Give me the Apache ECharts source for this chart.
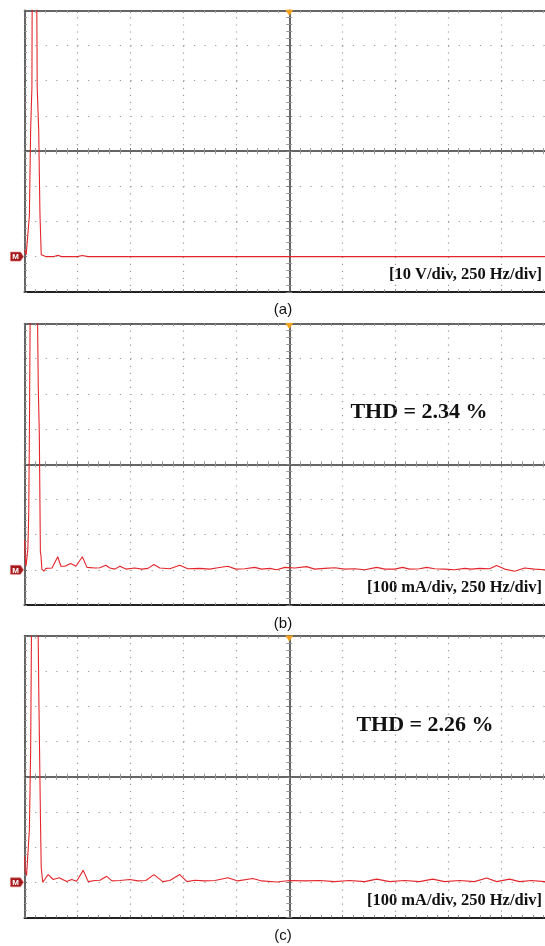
<!DOCTYPE html>
<html>
<head>
<meta charset="utf-8">
<style>
  html, body { margin: 0; padding: 0; background: #fff; }
  #chart { width: 545px; height: 946px; }
</style>
<script src="https://cdn.jsdelivr.net/npm/echarts@6.0.0/dist/echarts.min.js"></script>
</head>
<body>
<div id="chart"></div>
<script>
// Spectrum traces: frequency (Hz) and magnitude above the M reference level.
// (a) voltage in V
const freqA = [0, 3, 8, 12, 17, 23, 29, 35, 40, 45, 50, 54, 60, 67, 70, 73, 79, 85, 100, 140, 157, 175, 250, 273, 300, 2500];
const voltA = [2, 1.5, 0.5, 0.5, 0.3, 11.6, 36, 48, 150, 280, 320, 120, 48, 36, 24, 12, 0.5, 0, 0, 0, 0.4, 0, 0, 0.3, 0, 0];

// (b) current in mA
const freqB = [0, 3, 7, 12, 16, 20, 23, 27, 35, 50, 60, 65, 70, 75, 78, 82, 86, 91, 101, 130, 157, 172, 191, 218, 243, 273, 295,
  333, 356, 384, 403, 427, 450, 479, 521, 554, 583, 611, 639, 686, 733, 771, 828, 875, 913, 960, 998, 1040, 1087, 1120, 1158,
  1191, 1229, 1276, 1332, 1370, 1417, 1465, 1512, 1559, 1606, 1663, 1701, 1748, 1785, 1818, 1865, 1899, 1936, 1983, 2031,
  2078, 2111, 2149, 2196, 2229, 2267, 2314, 2361, 2408, 2455, 2500];
const currB = [85, 45, 10, 5, 60, 160, 380, 750, 1100, 1500, 800, 520, 385, 50, 40, 2, -3, -4, 4, 5, 37, 10, 10, 18, 10, 37, 7,
  5, 6, 13, 5, 2, 10, 2, 5, 2, 4, 15, 5, 3, 13, 3, 4, 2, 6, 10, 2, 3, 7, 2, 4,
  0, 7, 5, 9, 2, 4, 6, 2, 3, 0, 7, 2, 2, 7, 2, 3, 7, 3, 2, 0,
  4, 2, 4, 3, 12, 2, -4, 5, 2, 0, 2];

// (c) current in mA
const freqC = [0, 3, 10, 16, 23, 29, 34, 50, 68, 76, 79, 86, 91, 101, 112, 136, 164, 199, 223, 246, 277, 301,
  333, 356, 388, 413, 450, 498, 535, 573, 611, 653, 686, 733, 767, 804, 851, 899, 960, 1007, 1078, 1120,
  1191, 1252, 1323, 1394, 1465, 1535, 1606, 1663, 1724, 1795, 1865, 1927, 1983, 2054, 2125, 2182, 2229,
  2290, 2337, 2394, 2455, 2500];
const currC = [73, 36, 20, 17, 150, 372, 800, 1500, 514, 155, 42, 0, 3, 13, 22, 8, 13, 2, 8, 3, 34, 2,
  5, 6, 17, 4, 5, 8, 4, 5, 22, 2, 5, 22, 2, 6, 4, 5, 13, 4, 11, 4,
  1, 5, 4, 5, 2, 5, 2, 9, 2, 5, 2, 9, 2, 5, 2, 12, 2,
  9, 2, 5, 2, 3];

// Screen scale: 10 divisions of 250 Hz, 8 divisions of amplitude
const freqMin = 0, freqMax = 2500, freqDiv = 250;
const ampScales = [[-10, 70, 10], [-100, 700, 100], [-100, 700, 100]];
const scaleTexts = ['[10 V/div, 250 Hz/div]', '[100 mA/div, 250 Hz/div]', '[100 mA/div, 250 Hz/div]'];
const thdTexts = ['', 'THD = 2.34 %', 'THD = 2.26 %'];
const panelTexts = ['(a)', '(b)', '(c)'];

const traces = [
  freqA.map((f, i) => [f, voltA[i]]),
  freqB.map((f, i) => [f, currB[i]]),
  freqC.map((f, i) => [f, currC[i]])
];

// layout of the three screens (the right edge of each screen runs past the page)
const plotLeft = 24.5, plotWidth = 529.5, plotHeight = 281.5;
const plotTops = [10.3, 323.5, 636];
const frameColor = '#333';
const tickColor = '#9a9a9a';
const dotColor = '#999';
const traceColor = '#e3262b';
const serif = '"Liberation Serif", "Times New Roman", serif';
const sans = '"Liberation Sans", Arial, sans-serif';

const grids = [], xAxes = [], yAxes = [], series = [], graphics = [];

function tickSet(inside, len) {
  return {
    axisTick: { show: true, inside: inside, length: len, lineStyle: { color: '#777', width: 1 } },
    minorTick: { show: true, splitNumber: 5, length: len, lineStyle: { color: tickColor, width: 1 } }
  };
}

for (let g = 0; g < 3; g++) {
  const [yMin, yMax, yDiv] = ampScales[g];
  grids.push({
    left: plotLeft, top: plotTops[g], width: plotWidth, height: plotHeight,
    show: false, containLabel: false, outerBoundsMode: 'none'
  });

  const xBase = {
    gridIndex: g, type: 'value', min: freqMin, max: freqMax, interval: freqDiv,
    axisLabel: { show: false }, splitLine: { show: false }, axisPointer: { show: false }
  };
  // bottom frame with the vertical dotted graticule
  xAxes.push(Object.assign({}, xBase, tickSet(true, 2.5), {
    position: 'bottom',
    axisLine: { show: true, onZero: false, lineStyle: { color: '#222', width: 2 } },
    splitLine: { show: true, lineStyle: { color: dotColor, width: 1.2, type: [1.2, 5.84] } }
  }));
  // top frame
  xAxes.push(Object.assign({}, xBase, tickSet(true, 2.5), {
    position: 'top',
    axisLine: { show: true, onZero: false, lineStyle: { color: frameColor, width: 1.5 } }
  }));
  // horizontal centre line, ticks above and below
  xAxes.push(Object.assign({}, xBase, tickSet(true, 3), {
    position: 'bottom', offset: -plotHeight / 2,
    axisLine: { show: true, onZero: false, lineStyle: { color: frameColor, width: 1.5 } }
  }));
  xAxes.push(Object.assign({}, xBase, tickSet(false, 3), {
    position: 'bottom', offset: -plotHeight / 2,
    axisLine: { show: false, onZero: false }
  }));

  const yBase = {
    gridIndex: g, type: 'value', min: yMin, max: yMax, interval: yDiv,
    axisLabel: { show: false }, splitLine: { show: false }, axisPointer: { show: false }
  };
  // left frame with the horizontal dotted graticule
  yAxes.push(Object.assign({}, yBase, tickSet(true, 2.5), {
    position: 'left',
    axisLine: { show: true, onZero: false, lineStyle: { color: frameColor, width: 1.5 } },
    splitLine: { show: true, lineStyle: { color: dotColor, width: 1.2, type: [1.2, 9.39] } }
  }));
  // vertical centre line, ticks left and right
  yAxes.push(Object.assign({}, yBase, tickSet(true, 3), {
    position: 'left', offset: -plotWidth / 2,
    axisLine: { show: true, onZero: false, lineStyle: { color: frameColor, width: 1.5 } }
  }));
  yAxes.push(Object.assign({}, yBase, tickSet(false, 3), {
    position: 'left', offset: -plotWidth / 2,
    axisLine: { show: false, onZero: false }
  }));

  series.push({
    type: 'line',
    xAxisIndex: 4 * g, yAxisIndex: 3 * g,
    data: traces[g],
    symbol: 'none', showSymbol: false, clip: true, silent: true,
    lineStyle: { color: traceColor, width: 1.1 },
    markPoint: {
      silent: true,
      animation: false,
      data: [
        {
          // ground reference marker
          coord: [freqMin, 0],
          symbol: 'path://M0,0 L10,0 L13,4.5 L10,9 L0,9 Z',
          symbolSize: [13, 9], symbolOffset: [-7.5, 0],
          itemStyle: { color: '#a3191c', borderColor: '#e07070', borderWidth: 0.6 },
          label: { show: true, formatter: 'M', color: '#fff', fontSize: 8, fontWeight: 'bold',
                   fontFamily: sans, offset: [-1.5, 0.5] }
        },
        {
          // trigger position marker
          coord: [(freqMin + freqMax) / 2, yMax],
          symbol: 'path://M0,0 L8,0 L4,6 Z',
          symbolSize: [8, 6], symbolOffset: [0, 2.5],
          itemStyle: { color: '#f4a21c' },
          label: { show: false }
        }
      ]
    }
  });

  const top = plotTops[g], bottom = top + plotHeight;
  graphics.push({
    type: 'text', x: 542, y: bottom - 17, silent: true,
    style: { text: scaleTexts[g], font: 'bold 16.5px ' + serif, fill: '#111',
             textAlign: 'right', textVerticalAlign: 'middle' }
  });
  if (thdTexts[g]) {
    graphics.push({
      type: 'text', x: 419 + (g === 2 ? 6 : 0), y: top + 89, silent: true,
      style: { text: thdTexts[g], font: 'bold 22px ' + serif, fill: '#111',
               textAlign: 'center', textVerticalAlign: 'middle' }
    });
  }
  graphics.push({
    type: 'text', x: 283, y: bottom + 18.5, silent: true,
    style: { text: panelTexts[g], font: '15px ' + sans, fill: '#111',
             textAlign: 'center', textVerticalAlign: 'middle' }
  });
}

const chart = echarts.init(document.getElementById('chart'), null, { renderer: 'canvas' });
chart.setOption({
  animation: false,
  backgroundColor: '#fff',
  grid: grids,
  xAxis: xAxes,
  yAxis: yAxes,
  series: series,
  graphic: graphics
});
</script>
</body>
</html>
